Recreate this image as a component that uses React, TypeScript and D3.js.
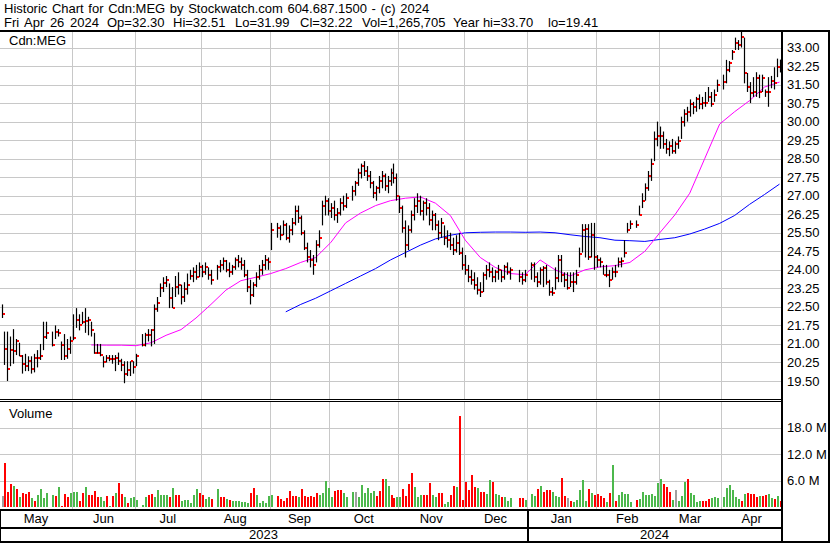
import * as d3 from "d3";

// high, low, close, volume (millions), volume colour: g = up, r = down, n = unchanged
type Bar = [number, number, number, number, string];

const holidays = [
  "2023-05-22", "2023-07-03", "2023-08-07", "2023-09-04", "2023-10-09",
  "2023-12-25", "2023-12-26", "2024-01-01", "2024-02-19", "2024-03-29",
];

const apr23: Bar[] = [[22.6, 22.05, 22.2, 2.5, "n"]];

const may23: Bar[] = [
  [21.5, 20.15, 20.8, 10.1, "r"], [21.5, 19.5, 20.0, 3.4, "r"], [21.3, 20.1, 20.75, 5.2, "r"],
  [21.6, 20.2, 20.7, 4.8, "g"], [21.2, 20.55, 21.1, 4.0, "r"], [21.05, 20.5, 20.5, 2.3, "g"],
  [20.55, 19.8, 20.2, 3.2, "r"], [20.6, 19.9, 20.1, 3.0, "r"], [20.5, 19.9, 20.3, 3.4, "r"],
  [20.5, 19.8, 20.0, 2.0, "g"], [20.6, 19.85, 20.45, 1.4, "r"], [20.75, 20.05, 20.45, 2.7, "g"],
  [21.0, 20.35, 20.5, 4.1, "g"], [21.9, 20.75, 21.3, 2.0, "g"], [21.9, 21.2, 21.45, 3.2, "g"],
  [21.5, 20.9, 20.95, 2.7, "g"], [21.75, 21.2, 21.5, 2.5, "r"], [21.6, 21.3, 21.45, 4.5, "g"],
  [21.1, 20.35, 20.95, 0.3, "r"], [21.4, 20.35, 20.5, 3.0, "r"], [21.2, 20.4, 20.8, 2.3, "r"],
  [21.3, 20.6, 21.1, 3.2, "g"],
];

const jun23: Bar[] = [
  [22.2, 21.15, 21.25, 3.4, "g"], [22.45, 21.65, 21.95, 3.4, "g"], [22.2, 21.55, 21.75, 1.4, "r"],
  [22.3, 21.8, 21.9, 3.2, "r"], [22.45, 21.45, 21.92, 4.5, "g"], [22.1, 21.35, 21.95, 2.7, "r"],
  [21.9, 21.3, 21.55, 2.7, "r"], [21.45, 20.6, 20.65, 3.6, "r"], [21.0, 20.6, 20.65, 2.3, "r"],
  [21.0, 20.5, 20.55, 2.3, "g"], [20.5, 20.05, 20.25, 1.4, "g"], [20.55, 20.25, 20.45, 2.5, "r"],
  [20.55, 20.3, 20.4, 0.3, "g"], [20.55, 20.2, 20.4, 2.5, "r"], [20.55, 19.9, 20.45, 3.2, "g"],
  [20.65, 20.15, 20.3, 5.5, "r"], [20.4, 19.9, 20.15, 3.0, "r"], [20.3, 19.41, 19.8, 2.3, "g"],
  [20.3, 19.7, 19.95, 0.9, "r"], [20.3, 19.7, 20.3, 2.0, "g"], [20.3, 19.8, 20.05, 2.3, "g"],
  [20.6, 20.1, 20.5, 1.6, "g"],
];

const jul23: Bar[] = [
  [21.4, 20.9, 20.95, 0.5, "g"], [21.45, 20.9, 21.35, 2.3, "g"], [21.6, 21.1, 21.35, 2.7, "r"],
  [21.6, 20.9, 21.55, 3.0, "r"], [22.6, 21.0, 22.4, 2.3, "g"], [22.9, 22.3, 22.67, 3.9, "g"],
  [23.45, 22.9, 23.25, 2.7, "g"], [23.7, 23.1, 23.47, 2.7, "g"], [23.75, 23.3, 23.6, 2.7, "g"],
  [23.45, 22.45, 22.85, 2.3, "r"], [23.3, 22.45, 22.45, 4.3, "g"], [23.75, 22.9, 23.3, 2.7, "r"],
  [23.9, 23.0, 23.4, 2.7, "r"], [23.4, 22.6, 22.9, 1.4, "g"], [23.5, 22.7, 23.22, 1.6, "g"],
  [23.85, 23.0, 23.4, 1.6, "g"], [24.0, 23.6, 23.75, 0.9, "g"], [24.1, 23.5, 23.9, 2.7, "g"],
  [24.2, 23.6, 23.7, 4.1, "g"], [24.3, 23.7, 24.1, 3.2, "r"],
];

const aug23: Bar[] = [
  [24.2, 23.7, 23.9, 2.7, "r"], [24.3, 23.8, 24.1, 1.8, "g"], [24.1, 23.6, 23.8, 2.3, "g"],
  [24.0, 23.4, 23.6, 1.8, "r"], [24.2, 23.6, 24.1, 4.1, "g"], [24.4, 23.9, 24.2, 2.3, "r"],
  [24.5, 24.0, 24.35, 2.3, "r"], [24.4, 23.9, 24.0, 1.8, "g"], [24.3, 23.7, 23.9, 1.6, "r"],
  [24.2, 23.8, 24.1, 1.4, "g"], [24.5, 24.0, 24.4, 1.4, "g"], [24.6, 24.1, 24.3, 1.4, "g"],
  [24.5, 24.0, 24.2, 1.1, "g"], [24.4, 23.7, 23.8, 1.1, "g"], [24.0, 23.1, 23.3, 0.9, "g"],
  [23.6, 22.6, 23.0, 3.2, "r"], [23.5, 22.9, 23.4, 4.3, "r"], [23.9, 23.3, 23.7, 2.7, "g"],
  [24.2, 23.6, 24.0, 0.9, "g"], [24.4, 23.8, 24.2, 1.4, "g"], [24.6, 24.0, 24.4, 0.9, "g"],
  [24.5, 24.0, 24.3, 2.5, "g"],
];

const sep23: Bar[] = [
  [25.9, 24.8, 25.6, 2.7, "g"], [25.9, 25.3, 25.7, 2.5, "r"], [25.8, 25.2, 25.4, 1.8, "r"],
  [26.0, 25.4, 25.8, 1.4, "r"], [25.9, 25.2, 25.3, 2.0, "r"], [25.8, 25.1, 25.6, 3.6, "r"],
  [26.1, 25.4, 25.9, 2.5, "r"], [26.6, 25.8, 26.4, 2.5, "r"], [26.6, 25.9, 26.1, 2.3, "g"],
  [26.2, 25.4, 25.5, 4.1, "r"], [25.6, 24.8, 24.9, 2.5, "r"], [25.1, 24.3, 24.5, 2.3, "r"],
  [24.8, 24.1, 24.4, 2.5, "r"], [24.6, 23.8, 24.2, 2.3, "r"], [25.2, 24.3, 25.0, 3.2, "r"],
  [25.6, 24.9, 25.3, 2.7, "g"], [26.8, 25.8, 26.6, 3.2, "g"], [27.0, 26.2, 26.8, 5.9, "g"],
  [26.9, 26.2, 26.4, 4.3, "g"], [26.7, 26.1, 26.5, 2.3, "g"],
];

const oct23: Bar[] = [
  [26.8, 26.0, 26.2, 3.6, "r"], [26.5, 25.9, 26.3, 3.9, "r"], [26.9, 26.2, 26.7, 3.9, "r"],
  [27.0, 26.4, 26.6, 3.2, "g"], [27.1, 26.5, 26.9, 2.3, "g"], [27.4, 26.8, 27.2, 3.4, "g"],
  [27.6, 27.0, 27.5, 3.4, "n"], [28.1, 27.4, 27.9, 2.3, "g"], [28.3, 27.7, 28.2, 5.0, "g"],
  [28.4, 27.8, 28.0, 3.2, "g"], [28.2, 27.6, 27.8, 4.3, "g"], [28.0, 27.3, 27.5, 3.2, "g"],
  [27.6, 26.9, 27.1, 3.6, "g"], [27.4, 26.8, 27.3, 2.5, "r"], [27.8, 27.1, 27.6, 3.6, "r"],
  [28.0, 27.3, 27.8, 6.3, "r"], [27.9, 27.2, 27.4, 6.4, "g"], [27.8, 27.1, 27.6, 4.8, "g"],
  [28.1, 27.4, 27.9, 2.7, "r"], [28.3, 27.5, 27.7, 2.0, "r"], [27.9, 26.8, 27.0, 2.3, "g"],
];

const nov23: Bar[] = [
  [27.0, 26.3, 26.5, 2.3, "g"], [26.6, 25.5, 25.7, 4.1, "r"], [26.0, 24.5, 25.0, 2.5, "r"],
  [25.8, 24.8, 25.6, 5.2, "r"], [26.4, 25.5, 26.2, 7.7, "r"], [26.9, 26.0, 26.6, 4.5, "g"],
  [27.1, 26.3, 26.8, 2.3, "g"], [27.0, 26.2, 26.4, 2.7, "g"], [26.8, 26.0, 26.7, 2.7, "r"],
  [26.9, 26.2, 26.5, 2.7, "r"], [26.7, 25.8, 26.0, 5.5, "r"], [26.4, 25.6, 26.2, 2.7, "g"],
  [26.3, 25.6, 25.8, 2.3, "g"], [26.0, 25.2, 25.5, 3.2, "r"], [26.1, 25.3, 25.9, 3.2, "r"],
  [25.8, 25.0, 25.3, 0.7, "g"], [25.6, 24.9, 25.2, 1.1, "g"], [25.5, 24.8, 25.0, 2.7, "r"],
  [25.3, 24.6, 24.8, 4.8, "r"], [25.4, 24.7, 25.1, 4.5, "g"], [25.5, 24.6, 24.7, 20.7, "r"],
  [24.9, 24.0, 24.2, 1.6, "r"],
];

const dec23: Bar[] = [
  [24.6, 23.8, 24.0, 5.7, "r"], [24.2, 23.5, 23.7, 3.9, "r"], [24.0, 23.4, 23.6, 7.3, "r"],
  [23.9, 23.2, 23.4, 4.5, "r"], [23.7, 23.0, 23.2, 4.3, "g"], [23.5, 22.9, 23.1, 3.4, "r"],
  [23.9, 23.1, 23.8, 3.4, "r"], [24.2, 23.6, 24.0, 3.0, "g"], [24.3, 23.7, 23.9, 6.1, "g"],
  [24.1, 23.5, 23.7, 5.7, "r"], [24.0, 23.5, 23.9, 3.0, "g"], [24.2, 23.6, 24.0, 2.7, "g"],
  [24.0, 23.5, 23.7, 2.3, "r"], [24.2, 23.6, 24.1, 2.3, "g"], [24.3, 23.8, 23.9, 1.4, "g"],
  [24.1, 23.6, 24.0, 2.0, "g"], [24.0, 23.5, 23.7, 2.0, "r"], [23.9, 23.4, 23.6, 2.0, "r"],
  [24.0, 23.5, 23.8, 1.6, "g"],
];

const jan24: Bar[] = [
  [24.3, 23.6, 24.2, 3.0, "g"], [24.3, 23.5, 23.7, 2.5, "g"], [23.9, 23.3, 23.5, 4.1, "r"],
  [24.1, 23.4, 24.0, 4.8, "g"], [24.15, 23.3, 24.07, 3.4, "r"], [24.2, 23.4, 23.5, 3.9, "r"],
  [23.6, 22.95, 23.1, 3.9, "r"], [23.3, 22.95, 23.07, 3.4, "g"], [24.1, 23.2, 23.67, 2.5, "g"],
  [24.6, 23.5, 24.4, 2.3, "g"], [24.6, 23.5, 23.8, 6.6, "r"], [23.9, 23.3, 23.6, 2.5, "r"],
  [23.9, 23.2, 23.26, 2.0, "n"], [23.9, 23.3, 23.5, 1.4, "r"], [23.9, 23.1, 23.5, 1.1, "g"],
  [24.0, 23.4, 23.8, 1.6, "g"], [24.9, 24.1, 24.65, 3.9, "g"], [25.85, 24.7, 25.6, 6.1, "g"],
  [25.85, 24.5, 25.65, 1.4, "g"], [25.85, 24.4, 24.5, 4.1, "r"], [25.9, 24.5, 25.4, 3.2, "g"],
  [25.9, 24.0, 24.5, 2.7, "r"],
];

const feb24: Bar[] = [
  [24.6, 24.1, 24.4, 3.0, "r"], [24.5, 24.1, 24.3, 2.5, "r"], [24.2, 23.8, 23.8, 2.0, "r"],
  [24.2, 23.7, 23.8, 1.1, "g"], [24.0, 23.3, 23.6, 3.2, "r"], [24.1, 23.6, 23.9, 9.5, "g"],
  [24.2, 23.7, 23.9, 1.4, "r"], [24.5, 24.1, 24.3, 2.7, "g"], [24.5, 24.1, 24.37, 3.4, "g"],
  [25.2, 24.5, 24.7, 3.0, "g"], [25.9, 25.5, 25.6, 3.0, "g"], [26.0, 25.65, 25.85, 1.1, "g"],
  [26.0, 25.7, 25.8, 1.6, "r"], [26.6, 26.2, 26.2, 1.8, "g"], [27.1, 26.5, 26.8, 3.4, "g"],
  [27.5, 26.8, 27.3, 2.7, "g"], [28.0, 27.2, 27.8, 2.7, "g"], [28.5, 27.6, 28.3, 3.0, "g"],
  [29.6, 28.4, 29.3, 2.5, "g"], [30.0, 29.0, 29.4, 5.5, "g"],
];

const mar24: Bar[] = [
  [29.8, 28.9, 29.4, 6.4, "g"], [29.6, 28.9, 29.1, 5.2, "r"], [29.3, 28.7, 28.9, 4.5, "r"],
  [29.2, 28.6, 29.0, 3.4, "r"], [29.3, 28.7, 28.8, 1.6, "g"], [29.2, 28.7, 29.1, 3.9, "n"],
  [29.4, 28.9, 29.2, 1.4, "g"], [30.2, 29.3, 30.0, 2.5, "g"], [30.5, 29.8, 30.3, 5.7, "g"],
  [30.6, 30.0, 30.4, 6.4, "r"], [30.9, 30.2, 30.7, 3.2, "g"], [30.8, 30.3, 30.6, 2.7, "g"],
  [31.0, 30.4, 30.9, 1.1, "g"], [31.1, 30.5, 30.7, 1.4, "g"], [31.0, 30.5, 30.75, 1.4, "r"],
  [31.2, 30.6, 30.75, 1.4, "r"], [31.4, 30.8, 31.0, 1.8, "r"], [31.2, 30.6, 30.7, 2.0, "g"],
  [31.3, 30.8, 31.08, 2.3, "g"], [31.7, 31.2, 31.48, 2.0, "g"],
];

const apr24: Bar[] = [
  [31.9, 31.3, 31.6, 2.3, "g"], [32.5, 31.55, 32.1, 4.3, "g"], [32.45, 32.0, 32.36, 5.0, "g"],
  [32.9, 32.5, 32.8, 3.9, "g"], [33.4, 32.9, 33.2, 2.3, "g"], [33.3, 32.9, 33.1, 1.8, "g"],
  [33.7, 33.0, 33.44, 1.4, "r"], [33.4, 31.55, 31.97, 3.0, "g"], [31.97, 31.2, 31.4, 3.2, "r"],
  [31.6, 30.75, 31.15, 3.0, "r"], [31.8, 31.0, 31.2, 3.0, "r"], [32.0, 31.0, 31.75, 2.3, "r"],
  [31.9, 30.95, 31.2, 2.5, "g"], [31.9, 31.2, 31.75, 2.5, "r"], [31.3, 31.0, 31.2, 2.7, "r"],
  [31.8, 30.6, 31.2, 3.0, "g"], [31.85, 31.35, 31.66, 2.0, "g"], [32.2, 31.3, 31.55, 1.8, "r"],
  [32.55, 31.8, 32.22, 2.5, "g"], [32.51, 31.99, 32.22, 1.27, "r"],
];

// moving averages, one value per Friday (week 0 = Fri 2023-05-05)
const maShortStart = 5;
const maShort = [
  20.96, 20.95, 20.95, 20.93, 21.05, 21.35, 21.58, 22.05, 22.6, 23.18, 23.56, 23.7, 23.85,
  24.05, 24.3, 24.5, 25.1, 25.9, 26.3, 26.6, 26.8, 26.9, 26.95, 26.7, 26.2, 25.2, 24.5,
  24.1, 23.85, 23.8, 24.4, 24.0, 23.75, 24.0, 24.12, 24.17, 24.3, 24.75, 25.5, 26.22,
  27.1, 28.5, 29.9, 30.4, 30.85, 31.4, 31.6,
];
const maLongStart = 18;
const maLong = [
  22.3, 22.6, 22.85, 23.15, 23.45, 23.75, 24.05, 24.4, 24.7, 25.0, 25.25, 25.4, 25.5,
  25.52, 25.53, 25.53, 25.52, 25.53, 25.5, 25.42, 25.35, 25.3, 25.2, 25.18, 25.15, 25.23,
  25.3, 25.45, 25.65, 25.88, 26.2, 26.65, 27.05, 27.47,
];

const monthNames = ["May", "Jun", "Jul", "Aug", "Sep", "Oct", "Nov", "Dec", "Jan", "Feb", "Mar", "Apr"];
const monthStarts = [
  "2023-06-01", "2023-07-01", "2023-08-01", "2023-09-01", "2023-10-01", "2023-11-01",
  "2023-12-01", "2024-01-01", "2024-02-01", "2024-03-01", "2024-04-01",
];
const yearNames = ["2023", "2024"];

const priceTicks = d3.range(19.5, 33.001, 0.75);
const volTicks = [6, 12, 18];

const title = "Historic Chart for Cdn:MEG by Stockwatch.com 604.687.1500 - (c) 2024";
const quote = [
  "Fri Apr 26 2024", "Op=32.30", "Hi=32.51", "Lo=31.99", "Cl=32.22",
  "Vol=1,265,705", "Year hi=33.70", "lo=19.41",
];
const quoteX = [4, 107, 173, 235, 300, 362, 453, 548];

const FONT = "'Liberation Sans', Arial, sans-serif";
const GRID = "#c8c8c8";
const volColor: Record<string, string> = { g: "#4cb84c", r: "#ff0000", n: "#a0a0a0" };

const fmtDay = d3.utcFormat("%Y-%m-%d");

// weekday slots, Apr 28 2023 = -1, May 1 2023 = 0 ... holidays keep their (empty) slot
function buildSlots() {
  const slots: { key: string; slot: number }[] = [];
  let s = -1;
  const end = Date.UTC(2024, 3, 26);
  for (let t = Date.UTC(2023, 3, 28); t <= end; t += 86400000) {
    const d = new Date(t);
    const wd = d.getUTCDay();
    if (wd === 0 || wd === 6) continue;
    slots.push({ key: fmtDay(d), slot: s });
    s++;
  }
  return slots;
}

export default function App() {
  const width = 830;
  const height = 543;
  const right = 782;

  const slots = buildSlots();
  const trading = slots.filter((d) => !holidays.includes(d.key));
  const bars = [
    ...apr23, ...may23, ...jun23, ...jul23, ...aug23, ...sep23,
    ...oct23, ...nov23, ...dec23, ...jan24, ...feb24, ...mar24, ...apr24,
  ];
  const data = bars.map((b, i) => ({ slot: trading[i]?.slot ?? i, h: b[0], l: b[1], c: b[2], v: b[3], dir: b[4] }));

  const x = d3.scaleLinear().domain([-1, 259]).range([1.5, 779.5]);
  const y = d3.scaleLinear().domain([19.5, 33]).range([381, 47.5]);
  const yv = d3.scaleLinear().domain([0, 18]).range([507, 427.7]);

  // month gridlines: last weekday on or before the 1st
  const gridX = monthStarts.map((m) => {
    const cand = slots.filter((d) => d.key <= m);
    return x(cand[cand.length - 1].slot) - 1.2;
  });
  const bounds = [0, ...gridX, right];
  const janX = gridX[7];

  const line = d3
    .line<[number, number]>()
    .x((d) => x(d[0] * 5 + 4))
    .y((d) => y(d[1]));
  const shortPath = line(maShort.map((v, i) => [maShortStart + i, v]));
  const longPath = line(maLong.map((v, i) => [maLongStart + i, v]));

  const px = (s: number) => Math.round(x(s));

  return (
    <svg
      width={width}
      height={height}
      style={{ position: "absolute", left: 0, top: 0, background: "#fff" }}
      fontFamily={FONT}
      fontSize={13}
    >
      <rect width={width} height={height} fill="#fff" />

      {/* header */}
      <text x={4} y={12.5} fill="#000" wordSpacing={1}>{title}</text>
      {quote.map((q, i) => (
        <text key={q} x={quoteX[i]} y={27} fill="#000" wordSpacing={i === 0 ? 2 : 0}>{q}</text>
      ))}

      {/* price grid */}
      {priceTicks.map((t) => (
        <line key={t} x1={0} x2={right} y1={Math.round(y(t)) + 0.5} y2={Math.round(y(t)) + 0.5} stroke={GRID} />
      ))}
      {/* volume grid */}
      {volTicks.map((t) => (
        <line key={t} x1={0} x2={right} y1={Math.round(yv(t)) + 0.5} y2={Math.round(yv(t)) + 0.5} stroke={GRID} />
      ))}
      {gridX.map((gx, i) => (
        <g key={i}>
          <line x1={Math.round(gx) + 0.5} x2={Math.round(gx) + 0.5} y1={32} y2={399} stroke={GRID} />
          <line x1={Math.round(gx) + 0.5} x2={Math.round(gx) + 0.5} y1={402} y2={509} stroke={GRID} />
        </g>
      ))}

      <rect x={2} y={33} width={Math.round(gridX[0]) - 3} height={Math.round(y(33)) - 33} fill="#fff" />
      <text x={9} y={45} fill="#000">Cdn:MEG</text>
      <text x={9} y={418} fill="#000">Volume</text>

      {/* moving averages */}
      <path d={longPath ?? ""} fill="none" stroke="#0000ff" strokeWidth={1} />
      <path d={shortPath ?? ""} fill="none" stroke="#ff00ff" strokeWidth={1} />

      {/* price bars */}
      {data.map((d, i) => (
        <g key={i}>
          <line
            x1={px(d.slot) + 0.5}
            x2={px(d.slot) + 0.5}
            y1={y(d.h)}
            y2={y(d.l)}
            stroke="#000"
            strokeWidth={1.2}
          />
          <rect x={px(d.slot) + 1} y={Math.round(y(d.c)) - 1} width={2} height={2} fill="#ff0000" />
        </g>
      ))}

      {/* volume bars */}
      {data.map((d, i) => (
        <rect
          key={i}
          x={px(d.slot) - 0.5}
          y={yv(d.v)}
          width={2}
          height={yv(0) - yv(d.v)}
          fill={volColor[d.dir]}
          shapeRendering="crispEdges"
        />
      ))}

      {/* panel frames */}
      <g stroke="#000" shapeRendering="crispEdges">
        <line x1={0} x2={width} y1={31} y2={31} strokeWidth={2} />
        <line x1={0} x2={right} y1={399.5} y2={399.5} strokeWidth={1} />
        <line x1={0} x2={right} y1={401.5} y2={401.5} strokeWidth={1} />
        <line x1={0} x2={right} y1={509.5} y2={509.5} strokeWidth={2} />
        <line x1={0} x2={right} y1={527.5} y2={527.5} strokeWidth={2} />
        <line x1={0} x2={width} y1={541.5} y2={541.5} strokeWidth={2} />
        <line x1={right} x2={right} y1={30} y2={543} strokeWidth={2} />
        <line x1={width - 1} x2={width - 1} y1={30} y2={543} strokeWidth={2} />
        <line x1={0.5} x2={0.5} y1={509} y2={542} strokeWidth={1.5} />
        <line x1={Math.round(janX) + 0.5} x2={Math.round(janX) + 0.5} y1={509} y2={542} strokeWidth={2} />
      </g>

      {/* axis labels */}
      {priceTicks.map((t) => (
        <text key={t} x={787} y={y(t) + 4.5} fill="#000">{t.toFixed(2)}</text>
      ))}
      {volTicks.map((t) => (
        <text key={t} x={787} y={yv(t) + 4.5} fill="#000">{`${t.toFixed(1)} M`}</text>
      ))}
      {monthNames.map((m, i) => (
        <text key={m} x={(bounds[i] + bounds[i + 1]) / 2} y={522.5} textAnchor="middle" fill="#000">{m}</text>
      ))}
      <text x={janX / 2} y={538.5} textAnchor="middle" fill="#000">{yearNames[0]}</text>
      <text x={(janX + right) / 2} y={538.5} textAnchor="middle" fill="#000">{yearNames[1]}</text>
    </svg>
  );
}
